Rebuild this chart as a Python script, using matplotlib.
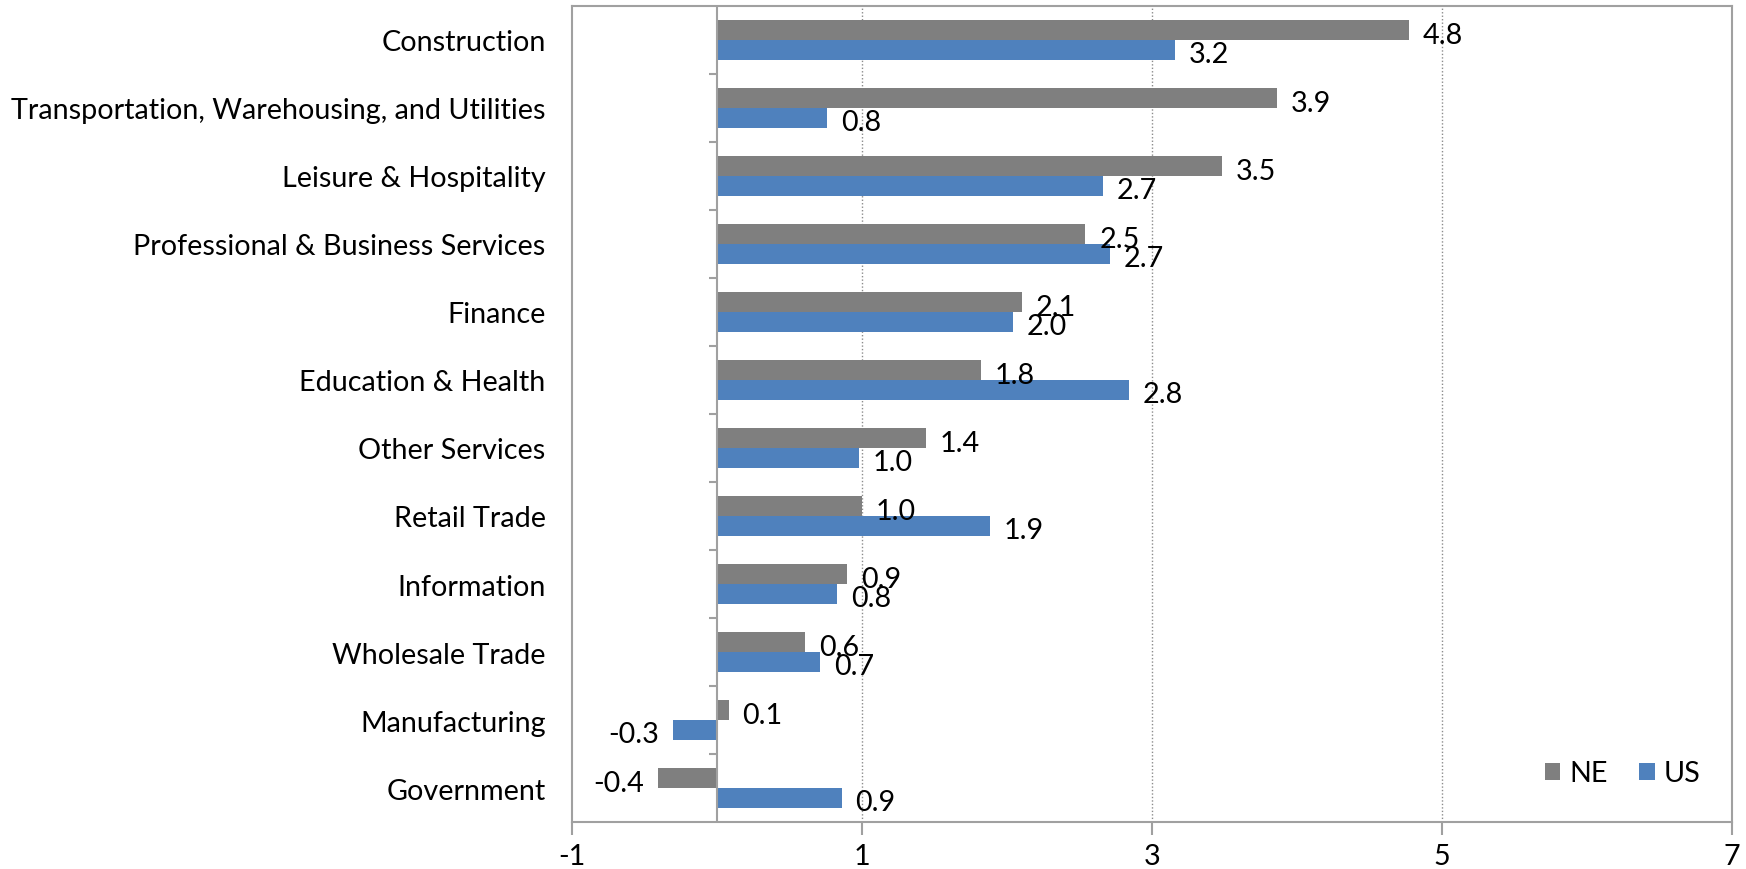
import matplotlib
matplotlib.use("Agg")
import matplotlib.pyplot as plt
import numpy as np

# categories top -> bottom as in the chart
categories = [
    "Construction",
    "Transportation, Warehousing, and Utilities",
    "Leisure & Hospitality",
    "Professional & Business Services",
    "Finance",
    "Education & Health",
    "Other Services",
    "Retail Trade",
    "Information",
    "Wholesale Trade",
    "Manufacturing",
    "Government",
]
ne_values = [4.77, 3.86, 3.48, 2.54, 2.10, 1.82, 1.44, 1.00, 0.90, 0.61, 0.08, -0.41]
us_values = [3.16, 0.76, 2.66, 2.71, 2.04, 2.84, 0.98, 1.88, 0.83, 0.71, -0.30, 0.86]
series_names = ["NE", "US"]
xticks = [-1, 1, 3, 5, 7]

ne_color = "#7F7F7F"
us_color = "#4F81BD"
axis_color = "#A0A0A0"
fsize = 20.7

plt.rcParams["font.family"] = ["Lato", "DejaVu Sans"]

fig = plt.figure(figsize=(17.46, 8.70), dpi=100)
ax = fig.add_axes([0.3276, 0.054, 0.992 - 0.3276, 0.946 - 0.008])

y = np.arange(len(categories))
bh = 0.29
ax.barh(y - bh / 2, ne_values, height=bh, color=ne_color, label=series_names[0], zorder=3)
ax.barh(y + bh / 2, us_values, height=bh, color=us_color, label=series_names[1], zorder=3)

# value labels
for yy, vals in ((y - bh / 2, ne_values), (y + bh / 2, us_values)):
    for yi, v in zip(yy, vals):
        off = 10 if v >= 0 else -10
        ax.annotate(f"{v:.1f}", (v, yi), xytext=(off, -1.5), textcoords="offset points",
                    ha="left" if v >= 0 else "right", va="center_baseline",
                    fontsize=fsize, zorder=5)

ax.set_xlim(-1, 7)
ax.set_ylim(len(categories) - 0.5, -0.5)
ax.set_xticks(xticks)
ax.set_xticklabels([str(t) for t in xticks], fontsize=fsize)
ax.tick_params(axis="x", direction="out", length=9, width=1.5, color=axis_color, pad=6)

ax.set_yticks(y)
ax.set_yticklabels(categories, fontsize=fsize)
ax.tick_params(axis="y", length=0, pad=19)

for s in ax.spines.values():
    s.set_color(axis_color)
    s.set_linewidth(1.5)

# dotted gridlines
for gx in [1, 3, 5]:
    ax.axvline(gx, color="#8C8C8C", linestyle=(0, (1, 1.5)), linewidth=1.0, zorder=1)

# category axis at zero with tick marks between categories
ax.axvline(0, color=axis_color, linewidth=1.5, zorder=4)
bounds = np.arange(len(categories) + 1) - 0.5
ax.hlines(bounds[1:-1], -0.055, 0, color=axis_color, linewidth=1.5, zorder=4)

ax.legend(loc="lower right", bbox_to_anchor=(0.995, 0.012), ncol=2, frameon=False,
          fontsize=fsize, handlelength=0.55, handleheight=0.55, handletextpad=0.3,
          columnspacing=1.1)

fig.savefig("out.png", dpi=100)
